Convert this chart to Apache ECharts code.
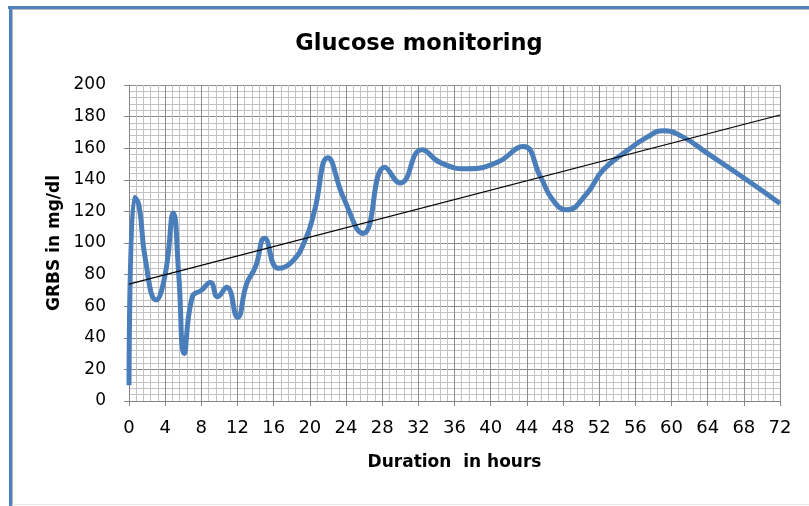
<!DOCTYPE html>
<html>
<head>
<meta charset="utf-8">
<script src="https://cdn.jsdelivr.net/npm/echarts@6/dist/echarts.min.js"></script>
<style>html,body{margin:0;padding:0;background:#fff}#c{width:809px;height:506px}</style>
</head>
<body>
<div id="c"></div>
<script>
// Data
var hours   = [0, 0.6, 1.1, 1.8, 3, 4, 4.9, 5.5, 6.1, 7, 8, 9, 9.8, 10.8, 12, 13, 14, 15, 16.5, 18, 19.5, 20.5, 22, 23.7, 25.9, 28.3, 30, 32.4, 34.4, 37.4, 40.7, 43.6, 45.5, 46.9, 48.4, 50.6, 52.4, 55, 57.3, 59.1, 61.3, 63.9, 68.3, 72];
var grbs    = [10, 129, 124, 90, 64, 80, 119, 80, 30, 66, 70, 75, 66, 72, 53, 74, 85, 103, 84, 88, 102, 120, 154, 129, 106, 148, 138, 159, 151, 147, 151, 161, 142, 127, 121, 131, 146, 158, 167, 171, 167, 157, 140, 125];
var trendHours = [0, 72];
var trendValues = [74, 181];
var xTicks = [0, 4, 8, 12, 16, 20, 24, 28, 32, 36, 40, 44, 48, 52, 56, 60, 64, 68, 72];
var yTicks = [0, 20, 40, 60, 80, 100, 120, 140, 160, 180, 200];

var seriesData = hours.map(function (h, i) { return [h, grbs[i]]; });
var trendData = trendHours.map(function (h, i) { return [h, trendValues[i]]; });

var chart = echarts.init(document.getElementById('c'), null, {renderer: 'canvas'});
var font = 'DejaVu Sans, Verdana, sans-serif';
chart.setOption({
  animation: false,
  backgroundColor: '#ffffff',
  title: {
    text: 'Glucose monitoring',
    left: 414, top: 28,
    textAlign: 'center',
    textStyle: {fontFamily: font, fontWeight: 'bold', fontSize: 22.5, color: '#000'}
  },
  grid: {left: 129, right: 29, top: 85, bottom: 105},
  xAxis: {
    type: 'value', min: xTicks[0], max: xTicks[xTicks.length - 1], interval: 4,
    name: 'Duration  in hours', nameLocation: 'middle', nameGap: 53,
    nameTextStyle: {fontFamily: font, fontWeight: 'bold', fontSize: 17, color: '#000'},
    axisLine: {show: true, lineStyle: {color: '#868686', width: 1}},
    axisTick: {show: true, length: 5, lineStyle: {color: '#868686'}},
    axisLabel: {fontFamily: font, fontSize: 18, color: '#000', margin: 18},
    splitLine: {show: true, lineStyle: {color: '#8c8c8c', width: 1}},
    minorTick: {show: false, splitNumber: 5},
    minorSplitLine: {show: true, lineStyle: {color: '#c2c2c2', width: 1}}
  },
  yAxis: {
    type: 'value', min: yTicks[0], max: yTicks[yTicks.length - 1], interval: 20,
    name: 'GRBS in mg/dl', nameLocation: 'middle', nameGap: 66,
    nameTextStyle: {fontFamily: font, fontWeight: 'bold', fontSize: 17, color: '#000'},
    axisLine: {show: true, lineStyle: {color: '#868686', width: 1}},
    axisTick: {show: true, length: 5, lineStyle: {color: '#868686'}},
    axisLabel: {fontFamily: font, fontSize: 17, color: '#000', margin: 23},
    splitLine: {show: true, lineStyle: {color: '#8c8c8c', width: 1}},
    minorTick: {show: false, splitNumber: 5},
    minorSplitLine: {show: true, lineStyle: {color: '#c2c2c2', width: 1}}
  },
  series: [
    {
      type: 'line', data: seriesData, smooth: 0.5, showSymbol: false, symbol: 'none',
      lineStyle: {color: '#4a7ebb', width: 5}, z: 3
    },
    {
      type: 'line', data: trendData, smooth: false, showSymbol: false, symbol: 'none',
      lineStyle: {color: '#000', width: 1.2}, z: 4
    }
  ],
  graphic: [
    {type: 'rect', shape: {x: 8, y: 6, width: 801, height: 3}, style: {fill: '#4f81bd'}, silent: true},
    {type: 'rect', shape: {x: 9, y: 6, width: 3, height: 500}, style: {fill: '#4f81bd'}, silent: true},
    {type: 'line', shape: {x1: 12, y1: 9.5, x2: 809, y2: 9.5}, style: {stroke: '#b8b8b8', lineWidth: 1}, silent: true},
    {type: 'line', shape: {x1: 12.5, y1: 9, x2: 12.5, y2: 506}, style: {stroke: '#b8b8b8', lineWidth: 1}, silent: true},
    {type: 'line', shape: {x1: 12, y1: 504.5, x2: 809, y2: 504.5}, style: {stroke: '#e6e6e6', lineWidth: 1}, silent: true},
    {type: 'line', shape: {x1: 780.5, y1: 85, x2: 780.5, y2: 401}, style: {stroke: '#8c8c8c', lineWidth: 1}, silent: true}
  ]
});
</script>
</body>
</html>
